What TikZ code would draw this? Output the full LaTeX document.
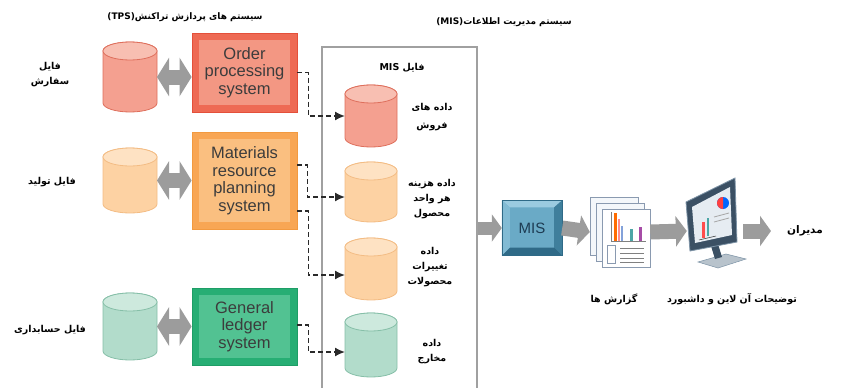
\documentclass[tikz,border=0pt]{standalone}
\usepackage{fontspec}
\setmainfont{Liberation Sans}
\newfontfamily\fa[Script=Arabic]{DejaVu Sans}
\TeXXeTstate=1
\usetikzlibrary{shapes.geometric,arrows.meta,calc}

% palette
\definecolor{arrowgrey}{HTML}{9C9C9C}
\definecolor{dashgrey}{HTML}{2A2A2A}
\definecolor{boxgrey}{HTML}{A0A0A0}
\definecolor{txtgrey}{HTML}{3C3C3C}
\definecolor{redD}{HTML}{DE6F5C}
\definecolor{redB}{HTML}{F4A090}
\definecolor{redE}{HTML}{F8BFB2}
\definecolor{orgD}{HTML}{F3BC84}
\definecolor{orgB}{HTML}{FDD2A3}
\definecolor{orgE}{HTML}{FEE2C3}
\definecolor{grnD}{HTML}{86BFA8}
\definecolor{grnB}{HTML}{B2DCCB}
\definecolor{grnE}{HTML}{CDE9DD}
\definecolor{ordEdge}{HTML}{E4503A}
\definecolor{ordOuter}{HTML}{EE6A54}
\definecolor{ordInner}{HTML}{F39783}
\definecolor{mrpEdge}{HTML}{F29A40}
\definecolor{mrpOuter}{HTML}{F8A654}
\definecolor{mrpInner}{HTML}{FABF80}
\definecolor{glEdge}{HTML}{1E9E66}
\definecolor{glOuter}{HTML}{27AE74}
\definecolor{glInner}{HTML}{52C292}
\definecolor{keyFace}{HTML}{6AAAC6}
\definecolor{keyTop}{HTML}{9BCBE0}
\definecolor{keyLeft}{HTML}{82BBD4}
\definecolor{keyRight}{HTML}{3F7F9C}
\definecolor{keyBottom}{HTML}{2F6A87}
\definecolor{keyText}{HTML}{1D3B52}
\definecolor{pageEdge}{HTML}{8A9AB0}
\definecolor{pageFill}{HTML}{F4F7FA}
\definecolor{monFrame}{HTML}{3B5064}
\definecolor{monEdge}{HTML}{7D93A6}
\definecolor{monScreen}{HTML}{E6ECF2}
\definecolor{monBase}{HTML}{B8C3CC}

% one right-to-left line
\newcommand\rl[1]{\beginR#1\endR}

% upright drum drawn inside a named node: #1 node, #2 half width, #3 outline, #4 body, #5 lid
\newcommand\drumbody[5]{%
  \filldraw[fill=#4, draw=#3, line width=0.8pt]
    ([yshift=-9pt]#1.north west) -- ([yshift=9pt]#1.south west)
    arc[start angle=180, end angle=360, x radius=#2, y radius=9pt]
    -- ([yshift=-9pt]#1.north east)
    arc[start angle=0, end angle=180, x radius=#2, y radius=9pt] -- cycle;
  \filldraw[fill=#5, draw=#3, line width=0.8pt]
    ([yshift=-9pt]#1.north) ellipse[x radius=#2, y radius=9pt];
}

\begin{document}
\begin{tikzpicture}[x=1pt,y=-1pt,
  falabel/.style={font=\fa\bfseries\fontsize{9.5}{15}\selectfont, align=center, text=black, inner sep=1pt},
  fatitle/.style={font=\fa\bfseries\fontsize{9}{11}\selectfont, text=black, inner sep=1pt},
  drumnode/.style={rectangle, inner sep=0pt, outer sep=0pt},
  sysbox/.style n args={3}{draw=#1, fill=#2, line width=0.8pt, minimum width=105pt,
    inner sep=0pt, text=txtgrey, font=\fontsize{16.5}{17.5}\selectfont, align=center,
    path picture={\fill[#3] ([shift={(7pt,-7pt)}]path picture bounding box.north west)
      rectangle ([shift={(-7pt,7pt)}]path picture bounding box.south east);}},
  dblarrow/.style={draw=arrowgrey, line width=15pt,
    {Triangle[width=38pt,length=12pt]}-{Triangle[width=38pt,length=12pt]}},
  bigarrow/.style={draw=arrowgrey, line width=15pt, -{Triangle[width=30pt,length=11pt]}},
  feed/.style={draw=dashgrey, line width=1.6pt, dash pattern=on 5pt off 3pt,
    -{Latex[length=10pt,width=9pt]}}
]
\useasboundingbox (0,0) rectangle (847,388);

% headings
\node[fatitle] (tpstitle) at (185,17) {\rl{سیستم های پردازش تراکنش\beginL(TPS)\endL}};
\node[fatitle] (mistitle) at (504,22) {\rl{سیستم مدیریت اطلاعات\beginL(MIS)\endL}};

% transaction files
\node[falabel] (ordfile) at (50,75) {\rl{فایل}\\\rl{سفارش}};
\node[falabel] (mrpfile) at (52,182) {\rl{فایل تولید}};
\node[falabel] (glfile) at (50,330) {\rl{فایل حسابداری}};

\node[drumnode, minimum width=54pt, minimum height=70pt] (ordcyl) at (130,77) {};
\drumbody{ordcyl}{27pt}{redD}{redB}{redE}
\node[drumnode, minimum width=54pt, minimum height=65pt] (mrpcyl) at (130,180.5) {};
\drumbody{mrpcyl}{27pt}{orgD}{orgB}{orgE}
\node[drumnode, minimum width=54pt, minimum height=67pt] (glcyl) at (130,326.5) {};
\drumbody{glcyl}{27pt}{grnD}{grnB}{grnE}

% transaction processing systems
\node[sysbox={ordEdge}{ordOuter}{ordInner}, minimum height=79pt] (ordsys) at (244.5,72.5) {Order\\processing\\system};
\node[sysbox={mrpEdge}{mrpOuter}{mrpInner}, minimum height=97pt] (mrpsys) at (244.5,180.5) {Materials\\resource\\planning\\system};
\node[sysbox={glEdge}{glOuter}{glInner}, minimum height=77pt] (glsys) at (244.5,326.5) {General\\ledger\\system};

\draw[dblarrow] (ordcyl.east) -- (ordcyl.east -| ordsys.west);
\draw[dblarrow] (mrpcyl.east) -- (mrpcyl.east -| mrpsys.west);
\draw[dblarrow] (glcyl.east) -- (glcyl.east -| glsys.west);

% MIS file store
\node[draw=boxgrey, line width=1.5pt, minimum width=155pt, minimum height=360pt,
  anchor=north, inner sep=0pt] (misfile) at (399.5,46) {};
\node[falabel] (mislabel) at (402,68) {\rl{فایل \beginL MIS\endL}};

\node[drumnode, minimum width=52pt, minimum height=62pt] (salescyl) at (371,116) {};
\drumbody{salescyl}{26pt}{redD}{redB}{redE}
\node[drumnode, minimum width=52pt, minimum height=60pt] (costcyl) at (371,192) {};
\drumbody{costcyl}{26pt}{orgD}{orgB}{orgE}
\node[drumnode, minimum width=52pt, minimum height=62pt] (chgcyl) at (371,269) {};
\drumbody{chgcyl}{26pt}{orgD}{orgB}{orgE}
\node[drumnode, minimum width=52pt, minimum height=64pt] (expcyl) at (371,345) {};
\drumbody{expcyl}{26pt}{grnD}{grnB}{grnE}

\node[falabel, font=\fa\bfseries\fontsize{9.5}{18}\selectfont] (saleslbl) at (432,117) {\rl{داده های}\\\rl{فروش}};
\node[falabel] (costlbl) at (432,199) {\rl{داده هزینه}\\\rl{هر واحد}\\\rl{محصول}};
\node[falabel] (chglbl) at (430,267) {\rl{داده}\\\rl{تغییرات}\\\rl{محصولات}};
\node[falabel] (explbl) at (432,352) {\rl{داده}\\\rl{مخارج}};

% data feeds into the MIS files
\draw[feed] (ordsys.east) -- ++(11,0) |- (salescyl.west);
\draw[feed] ([yshift=15.5pt]mrpsys.east) -- ++(10,0) |- ([yshift=-5pt]costcyl.west);
\draw[feed] ([yshift=-30.5pt]mrpsys.east) -- ++(11,0) |- ([yshift=-6pt]chgcyl.west);
\draw[feed] ([yshift=1.5pt]glsys.east) -- ++(11,0) |- ([yshift=-7pt]expcyl.west);

% MIS key
\node[fill=keyFace, minimum width=60pt, minimum height=55pt, inner sep=0pt,
  text=keyText, font=\fontsize{15}{15}\selectfont] (miskey) at (532,228) {MIS};
\fill[keyTop] (miskey.north west) -- (miskey.north east)
  -- ([shift={(-8pt,-7pt)}]miskey.north east) -- ([shift={(8pt,-7pt)}]miskey.north west) -- cycle;
\fill[keyLeft] (miskey.north west) -- ([shift={(8pt,-7pt)}]miskey.north west)
  -- ([shift={(8pt,8pt)}]miskey.south west) -- (miskey.south west) -- cycle;
\fill[keyRight] (miskey.north east) -- ([shift={(-8pt,-7pt)}]miskey.north east)
  -- ([shift={(-8pt,8pt)}]miskey.south east) -- (miskey.south east) -- cycle;
\fill[keyBottom] (miskey.south west) -- ([shift={(8pt,8pt)}]miskey.south west)
  -- ([shift={(-8pt,8pt)}]miskey.south east) -- (miskey.south east) -- cycle;
\draw[keyBottom, line width=0.6pt] (miskey.north west) rectangle (miskey.south east);

% reports
\node[minimum width=60pt, minimum height=70pt, inner sep=0pt] (reports) at (620,232) {};
\foreach \d in {0,6} {
  \filldraw[fill=pageFill, draw=pageEdge, line width=0.6pt] (590+\d,197+\d) rectangle (638+\d,255+\d);
}
\filldraw[fill=white, draw=pageEdge, line width=0.6pt] (602,209) rectangle (650,267);
\draw[gray, line width=0.5pt] (611,212) -- (611,241) -- (646,241);
\fill[orange!85!red] (614,213) rectangle (617,241);
\fill[red!45] (618,219) rectangle (620,241);
\fill[cyan!45!blue!50] (621,226) rectangle (623,241);
\fill[teal!70] (630,229) rectangle (633,241);
\fill[violet!70] (639,227) rectangle (642,241);
\draw[pageEdge, line width=0.7pt] (607,245) rectangle (615,263);
\foreach \yy in {248,253,258,262} {
  \draw[gray, line width=0.9pt] (620,\yy) -- (644,\yy);
}

% online display
\node[minimum width=50pt, minimum height=80pt, inner sep=0pt] (monitor) at (712,231) {};
\fill[monBase] (698,262) -- (726,254) -- (746,259) -- (718,268) -- cycle;
\draw[monEdge, line width=0.5pt] (698,262) -- (726,254) -- (746,259) -- (718,268) -- cycle;
\fill[monFrame] (711,246) -- (718,244) -- (722,257) -- (715,259) -- cycle;
\filldraw[fill=monFrame, draw=monEdge, line width=0.8pt]
  (686,202) -- (735,178) -- (737,242) -- (690,251) -- cycle;
\fill[monScreen] (692,207) -- (730,187) -- (732,235) -- (695,243) -- cycle;
\fill[red!70] (702,222) rectangle (705,238);
\fill[teal!70] (707,218) rectangle (709,236);
\draw[dashgrey, line width=0.5pt] (699,240) -- (716,236);
\fill[blue!60!cyan] (723,203) circle (6pt);
\fill[red!75] (723,203) -- (723,197) arc[start angle=90, end angle=270, radius=6pt] -- cycle;
\draw[gray!70, line width=0.8pt] (714,217) -- (729,213);
\draw[gray!70, line width=0.8pt] (714,222) -- (729,218);

% managers
\node[falabel, font=\fa\bfseries\fontsize{10.5}{12}\selectfont] (mgrs) at (805,231) {\rl{مدیران}};

% output captions
\node[falabel] (replbl) at (614,299) {\rl{گزارش ها}};
\node[falabel] (monlbl) at (732,299) {\rl{توضیحات آن لاین و داشبورد}};

% information flow
\draw[bigarrow, line width=13pt, -{Triangle[width=27pt,length=10pt]}] (misfile.east |- miskey.west) -- (miskey.west);
\draw[bigarrow] (miskey.east) -- (reports.west);
\draw[bigarrow] (reports.east) -- (monitor.west);
\draw[bigarrow, shorten <=6pt, shorten >=15pt] (monitor.east) -- (mgrs.west);
\end{tikzpicture}
\end{document}
